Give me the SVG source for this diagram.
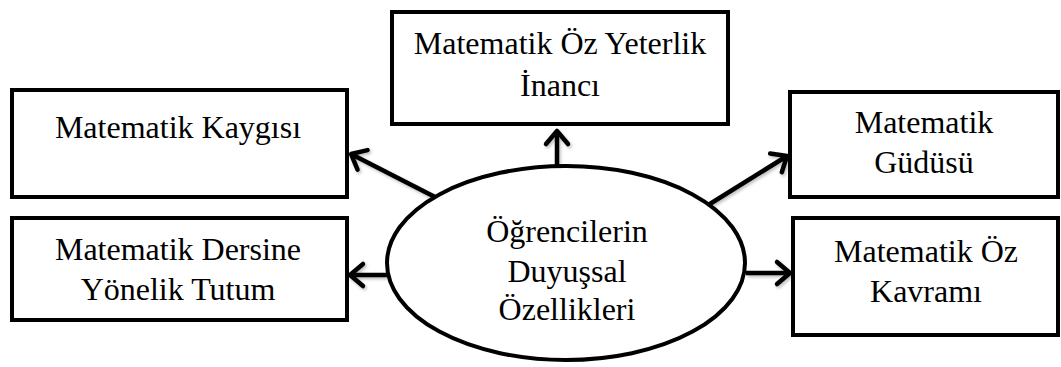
<svg xmlns="http://www.w3.org/2000/svg" width="1061" height="367" viewBox="0 0 1061 367">
  <style>
    .box { fill: #ffffff; stroke: #000000; stroke-width: 4; }
    .hub { fill: #ffffff; stroke: #000000; stroke-width: 4; }
    .lbl { font-family: 'Liberation Serif', Tinos, 'Times New Roman', 'DejaVu Serif', serif; font-size: 32px; fill: #000000; text-anchor: middle; }
    .link { fill: none; stroke: #000000; stroke-width: 4.5; stroke-linecap: butt; marker-end: url(#chevron); }
  </style>
  <defs>
    <marker id="chevron" markerUnits="userSpaceOnUse" viewBox="-20 -15 26 30" refX="0" refY="0" markerWidth="26" markerHeight="30" orient="auto" overflow="visible">
      <path d="M-13,-11 L0,0 L-13,11" fill="none" stroke="#000000" stroke-width="4.5" stroke-linecap="round" stroke-linejoin="round"/>
    </marker>
    <filter id="soft" x="-20%" y="-20%" width="140%" height="140%">
      <feDropShadow dx="1.5" dy="2" stdDeviation="1.5" flood-color="#000000" flood-opacity="0.25"/>
    </filter>
  </defs>

  <rect width="1061" height="367" fill="#ffffff"/>

  <!-- connectors from the central ellipse outwards -->
  <g id="connectors" filter="url(#soft)">
    <line class="link" x1="557" y1="165" x2="557" y2="131"/>
    <line class="link" x1="435" y1="197" x2="351" y2="154"/>
    <line class="link" x1="705" y1="207" x2="787" y2="156"/>
    <line class="link" x1="399" y1="275" x2="350" y2="275"/>
    <line class="link" x1="746" y1="273" x2="790" y2="273"/>
  </g>

  <g id="node-self-efficacy">
    <rect class="box" x="392" y="12" width="336" height="112"/>
    <text class="lbl" x="560" y="54" font-family="Liberation Serif, serif">Matematik Öz Yeterlik</text>
    <text class="lbl" x="560" y="96">İnancı</text>
  </g>

  <g id="node-anxiety">
    <rect class="box" x="12" y="90" width="335" height="107"/>
    <text class="lbl" x="178" y="138">Matematik Kaygısı</text>
  </g>

  <g id="node-motivation">
    <rect class="box" x="790" y="92" width="268" height="105"/>
    <text class="lbl" x="924" y="133">Matematik</text>
    <text class="lbl" x="924" y="173">Güdüsü</text>
  </g>

  <g id="node-attitude">
    <rect class="box" x="12" y="218" width="335" height="102"/>
    <text class="lbl" x="178" y="260">Matematik Dersine</text>
    <text class="lbl" x="178" y="300">Yönelik Tutum</text>
  </g>

  <g id="node-self-concept">
    <rect class="box" x="793" y="218" width="265" height="117"/>
    <text class="lbl" x="926" y="262">Matematik Öz</text>
    <text class="lbl" x="926" y="302">Kavramı</text>
  </g>

  <g id="node-affective">
    <ellipse class="hub" cx="566" cy="263" rx="179" ry="97"/>
    <text class="lbl" x="567" y="242">Öğrencilerin</text>
    <text class="lbl" x="567" y="282">Duyuşsal</text>
    <text class="lbl" x="567" y="320">Özellikleri</text>
  </g>
</svg>
